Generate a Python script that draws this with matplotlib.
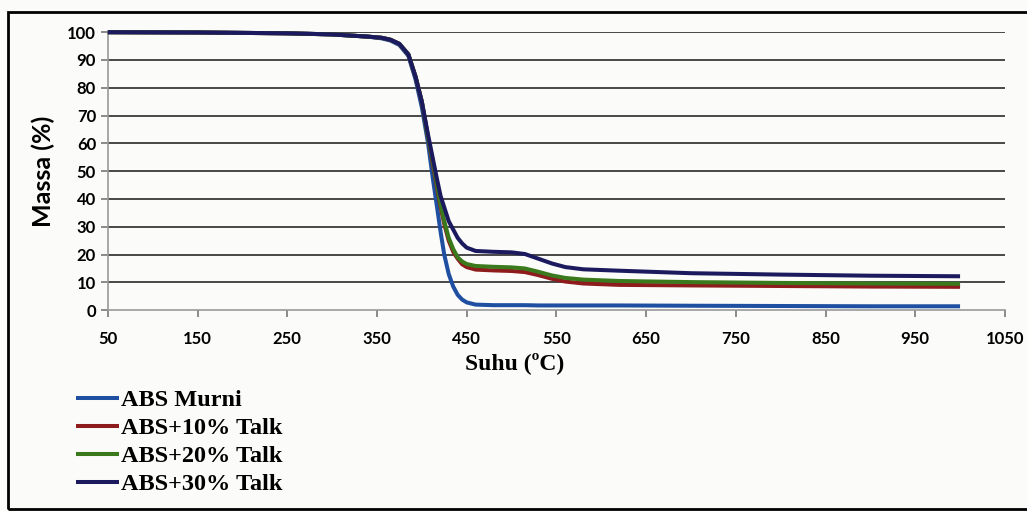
#!/usr/bin/env python3
"""TGA curves: mass loss of ABS and ABS/talc composites versus temperature."""

import matplotlib.pyplot as plt
from matplotlib.patches import Rectangle

# temperature (ºC) and remaining mass (%) for each sample
suhu = [50, 150, 250, 300, 340, 355, 365, 375, 385, 393, 400, 407, 412, 417,
        421, 425, 430, 435, 440, 445, 450, 460, 480, 500, 515, 530, 545, 560,
        580, 620, 700, 800, 900, 1000]

abs_murni = [100, 99.9, 99.6, 99.2, 98.4, 97.8, 97.0, 95.4, 91.5, 83, 73, 60,
             48, 37, 28, 20, 13, 8.5, 5.5, 3.8, 2.8, 2.0, 1.8, 1.8, 1.8, 1.7,
             1.7, 1.7, 1.7, 1.7, 1.6, 1.5, 1.4, 1.4]
abs_talk10 = [100, 99.9, 99.6, 99.2, 98.4, 98.0, 97.3, 95.8, 92, 84, 75, 62,
              53, 44, 37, 31, 25, 21, 18.5, 16.5, 15.5, 14.6, 14.3, 14.1, 13.7,
              12.6, 11.3, 10.3, 9.6, 9.1, 8.9, 8.7, 8.5, 8.4]
abs_talk20 = [100, 99.9, 99.6, 99.2, 98.4, 98.0, 97.3, 95.8, 92, 84, 75, 62,
              54, 45, 38, 32, 26, 22, 19, 17.5, 16.6, 15.9, 15.6, 15.4, 15.0,
              13.8, 12.5, 11.6, 11.0, 10.5, 10.1, 9.8, 9.6, 9.5]
abs_talk30 = [100, 99.9, 99.6, 99.2, 98.4, 98.0, 97.3, 95.8, 92, 84, 75, 63,
              55, 47, 41, 37, 32, 29, 26, 24, 22.5, 21.3, 21.0, 20.8, 20.2,
              18.5, 16.8, 15.5, 14.7, 14.2, 13.3, 12.8, 12.4, 12.2]

series = [
    ("ABS Murni", abs_murni, "#1f4fa0"),
    ("ABS+10% Talk", abs_talk10, "#8e1c1c"),
    ("ABS+20% Talk", abs_talk20, "#3b7a1c"),
    ("ABS+30% Talk", abs_talk30, "#1c1a5e"),
]

x_ticks = list(range(50, 1051, 100))
y_ticks = list(range(0, 101, 10))

SERIF = ["Liberation Serif", "DejaVu Serif"]
SANS = ["Lato", "DejaVu Sans"]

fig = plt.figure(figsize=(10.27, 5.11), dpi=100)
fig.patch.set_facecolor("#fbfbfa")
ax = fig.add_axes([0.105, 0.393, 0.8735, 0.544])
ax.set_facecolor("#fbfbfa")

# horizontal gridlines drawn first so the curves sit on top
for y in y_ticks[1:]:
    ax.axhline(y, color="#3a3a3a", lw=1.3, zorder=1)

# unclipped so the 100 % start of each curve keeps its full width
for label, values, color in series:
    ax.plot(suhu, values, color=color, lw=2.9, label=label, zorder=3,
            solid_capstyle="butt", solid_joinstyle="round", clip_on=False)

ax.set_xlim(50, 1050)
ax.set_ylim(0, 100)
ax.set_xticks(x_ticks)
ax.set_yticks(y_ticks)
ax.tick_params(axis="both", colors="#777777", length=5, width=1.2,
               labelcolor="black", labelsize=12)
ax.tick_params(axis="x", pad=10)
for lab in ax.get_xticklabels() + ax.get_yticklabels():
    lab.set_family(SANS)
    lab.set_fontweight("bold")

for side in ("top", "right"):
    ax.spines[side].set_visible(False)
for side in ("left", "bottom"):
    ax.spines[side].set_color("#999999")
    ax.spines[side].set_linewidth(1.2)

ax.set_xlabel("Suhu (ºC)", family=SERIF, fontweight="bold", fontsize=17,
              labelpad=0)
ax.xaxis.set_label_coords(0.453, -0.152)
ax.set_ylabel("Massa (%)", family=SANS, fontweight="bold", fontsize=18,
              labelpad=9)

leg = fig.legend(loc="upper left", bbox_to_anchor=(0.0622, 0.262),
                 frameon=False, handlelength=1.75, handletextpad=0.1,
                 labelspacing=0.245, borderpad=0.0,
                 prop={"family": SERIF, "weight": "bold", "size": 17.5})
for line in leg.get_lines():
    line.set_linewidth(2.9)

# outer chart border
fig.patches.append(Rectangle((8 / 1027, 2 / 511), 1.2, 1 - 14 / 511,
                             transform=fig.transFigure, fill=False,
                             edgecolor="black", lw=2.0))

fig.savefig("out.png", dpi=100, facecolor=fig.get_facecolor())
